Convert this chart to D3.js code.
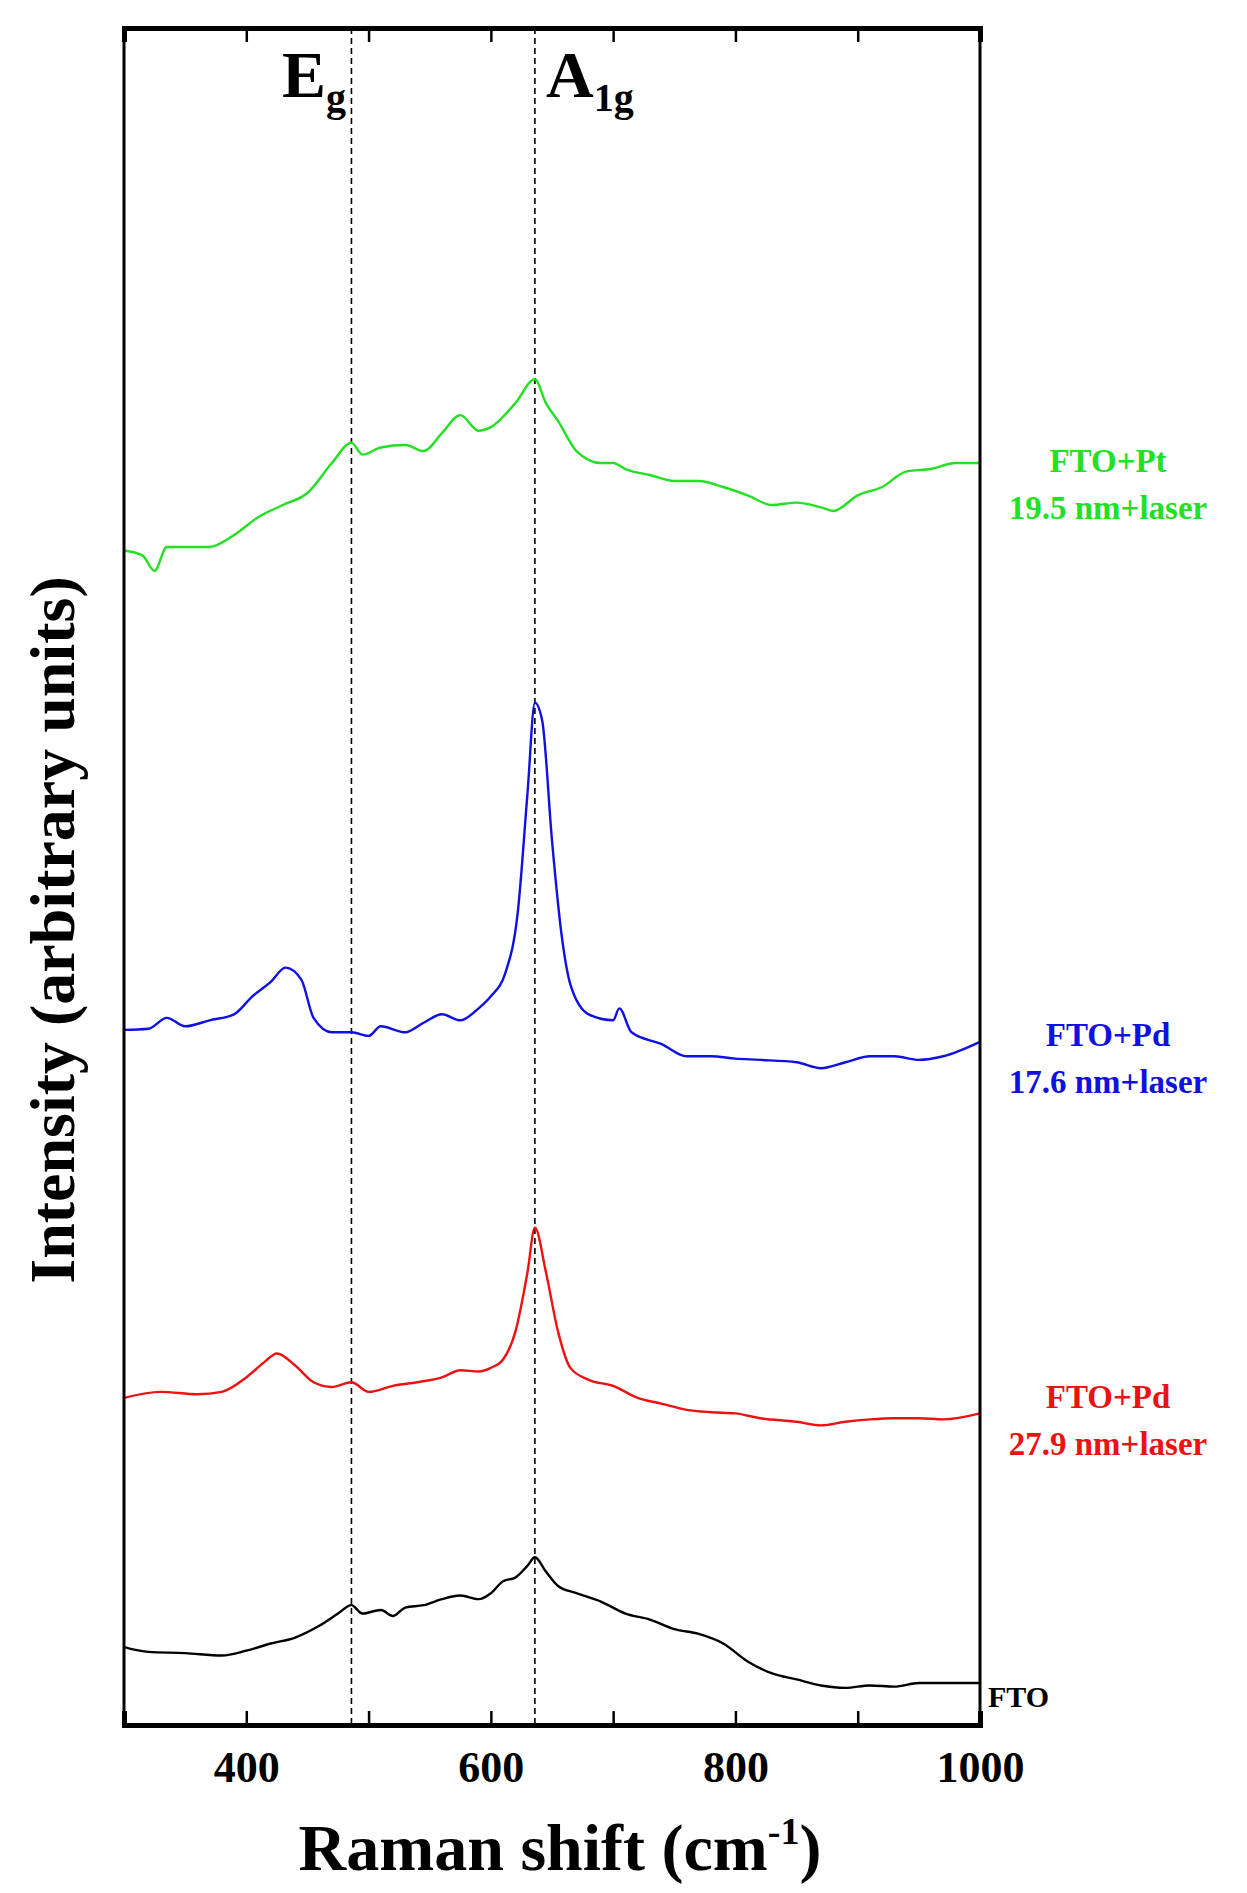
<!DOCTYPE html>
<html><head><meta charset="utf-8">
<script src="https://cdn.jsdelivr.net/npm/d3@7"></script>
<style>body{margin:0;background:#fff}</style>
</head><body>
<svg id="chart"></svg>
<script>
// raman shift (cm-1) and intensity (arbitrary units) for each spectrum
var ftoX = [300,320,350,380,400,420,440,460,475,486,495,510,520,530,545,560,575,590,600,610,620,630,636,645,655,670,690,710,730,750,770,790,810,830,850,870,890,910,930,950,970,1000];
var ftoY = [65,61,60,58,62,68,73,83,93,100,93,96,91,98,100,105,108,105,110,120,123,133,140,128,116,110,103,93,88,80,76,68,53,43,38,33,31,33,32,35,35,35];

var pd279X = [300,330,360,380,400,415,425,440,455,470,486,500,520,540,560,575,590,600,610,620,630,636,645,655,665,680,700,720,740,760,780,800,820,850,870,890,910,930,950,970,1000];
var pd279Y = [273,278,276,278,290,303,310,300,286,282,286,278,283,286,290,296,295,298,305,328,378,415,378,328,298,288,283,273,268,263,261,260,256,253,250,253,255,256,256,255,260];

var pd176X = [300,320,335,350,370,390,405,420,432,445,455,470,486,500,510,530,545,560,575,590,600,612,622,630,636,642,650,658,665,680,700,705,715,740,760,780,800,820,850,870,890,910,930,950,970,1000];
var pd176Y = [580,581,590,583,588,593,608,620,632,622,590,578,578,575,583,578,586,593,588,598,608,628,678,778,853,838,738,658,618,593,588,598,578,568,558,558,556,555,553,548,553,558,558,555,558,570];

var ptX = [300,315,325,335,350,370,390,410,430,450,470,486,495,510,530,545,560,575,590,600,620,636,645,655,670,690,700,710,730,750,770,790,810,830,850,870,880,900,920,940,960,980,1000];
var ptY = [980,976,963,983,983,983,993,1008,1018,1028,1053,1070,1060,1066,1068,1063,1078,1093,1080,1083,1103,1123,1103,1088,1063,1053,1053,1048,1043,1038,1038,1033,1026,1018,1020,1016,1013,1026,1033,1046,1048,1053,1053];

var seriesNames = ["FTO", "FTO+Pd 27.9 nm+laser", "FTO+Pd 17.6 nm+laser", "FTO+Pt 19.5 nm+laser"];
var seriesColors = ["#000000", "#ee1111", "#1010e0", "#22e022"];
var peakPositions = [486, 636];
var xTicks = [400, 500, 600, 700, 800, 900, 1000];
var xTickLabels = [400, 600, 800, 1000];

var W = 1247, H = 1893;
var m = {left: 124, right: 980, top: 28, bottom: 1725};

var svg = d3.select("#chart").attr("width", W).attr("height", H)
  .style("font-family", "'Liberation Serif', 'DejaVu Serif', serif");

var x = d3.scaleLinear().domain([300, 1000]).range([m.left, m.right]);
var y = d3.scaleLinear().domain([0, 1416]).range([m.bottom, m.top]);

var line = d3.line().x(d => x(d[0])).y(d => y(d[1])).curve(d3.curveMonotoneX);

var allSeries = [
  d3.zip(ftoX, ftoY), d3.zip(pd279X, pd279Y), d3.zip(pd176X, pd176Y), d3.zip(ptX, ptY)
];

// dashed peak lines
svg.selectAll(".peak").data(peakPositions).enter().append("line")
  .attr("x1", d => x(d)).attr("x2", d => x(d))
  .attr("y1", m.top).attr("y2", m.bottom)
  .attr("stroke", "#000").attr("stroke-width", 1.6).attr("stroke-dasharray", "6,4");

allSeries.forEach(function (s, i) {
  svg.append("path").datum(s).attr("d", line)
    .attr("fill", "none").attr("stroke", seriesColors[i]).attr("stroke-width", 2.4);
});

// axes
var axB = svg.append("g").attr("transform", "translate(0," + m.bottom + ")")
  .call(d3.axisBottom(x).tickValues(xTicks).tickSize(-14).tickPadding(26)
    .tickFormat(d => xTickLabels.includes(d) ? d : ""));
var axT = svg.append("g").attr("transform", "translate(0," + m.top + ")")
  .call(d3.axisTop(x).tickValues(xTicks).tickSize(-14).tickFormat(""));
[axB, axT].forEach(function (g) {
  g.select(".domain").attr("stroke-width", 5);
  g.selectAll(".tick line").attr("stroke-width", 2.5);
});
axB.selectAll("text").attr("font-size", 44).attr("font-weight", "bold")
  .attr("font-family", "'Liberation Serif', serif").attr("fill", "#000");

svg.append("line").attr("x1", m.left).attr("x2", m.left).attr("y1", m.top).attr("y2", m.bottom)
  .attr("stroke", "#000").attr("stroke-width", 3);
svg.append("line").attr("x1", m.right).attr("x2", m.right).attr("y1", m.top).attr("y2", m.bottom)
  .attr("stroke", "#000").attr("stroke-width", 3);

// axis titles
var xt = svg.append("text").attr("x", 560).attr("y", 1870).attr("text-anchor", "middle")
  .attr("font-size", 66).attr("font-weight", "bold");
xt.append("tspan").text("Raman shift (cm");
xt.append("tspan").attr("dy", -26).attr("font-size", 38).text("-1");
xt.append("tspan").attr("dy", 26).text(")");

svg.append("text").attr("transform", "translate(74,930) rotate(-90)")
  .attr("text-anchor", "middle").attr("font-size", 64).attr("font-weight", "bold")
  .text("Intensity (arbitrary units)");

// peak labels
var eg = svg.append("text").attr("x", 282).attr("y", 97).attr("font-size", 66).attr("font-weight", "bold");
eg.append("tspan").text("E");
eg.append("tspan").attr("dy", 14).attr("font-size", 40).text("g");
var ag = svg.append("text").attr("x", 546).attr("y", 97).attr("font-size", 66).attr("font-weight", "bold");
ag.append("tspan").text("A");
ag.append("tspan").attr("dy", 14).attr("font-size", 40).text("1g");

// series labels
var labels = [
  {lines: ["FTO"], y: 1707, c: 0, x: 988, anchor: "start", size: 30},
  {lines: ["FTO+Pd", "27.9 nm+laser"], y: 1408, c: 1},
  {lines: ["FTO+Pd", "17.6 nm+laser"], y: 1046, c: 2},
  {lines: ["FTO+Pt", "19.5 nm+laser"], y: 472, c: 3}
];
labels.forEach(function (l) {
  var t = svg.append("text").attr("fill", seriesColors[l.c]).attr("font-weight", "bold")
    .attr("font-size", l.size || 33).attr("text-anchor", l.anchor || "middle");
  l.lines.forEach(function (s, k) {
    t.append("tspan").attr("x", l.x || 1108).attr("y", l.y + k * 47).text(s);
  });
});
</script>
</body></html>
